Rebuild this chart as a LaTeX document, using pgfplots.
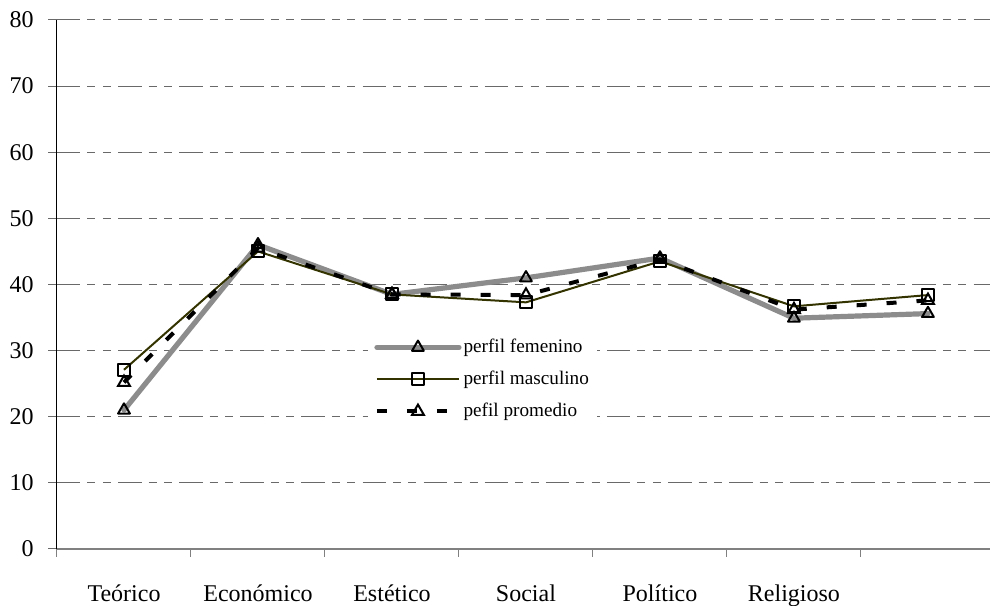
\documentclass[border=0pt]{standalone}
\usepackage{fontspec}
\setmainfont{Liberation Serif}
\usepackage{pgfplots}
\pgfplotsset{compat=1.18}
\definecolor{femgray}{RGB}{140,140,140}
\definecolor{olive3}{RGB}{51,51,0}
\definecolor{gridgray}{RGB}{105,105,105}
\begin{document}
\begin{tikzpicture}
\begin{axis}[
  name=ax,
  scale only axis,
  width=466.5pt, height=264.5pt,
  xmin=-0.5, xmax=6.463,
  ymin=0, ymax=80,
  axis lines*=left,
  x axis line style={draw=gray, line width=1pt, -},
  y axis line style={draw=black, line width=0.5pt, -},
  xtick={0,1,2,3,4,5},
  xticklabels={Teórico,Económico,Estético,Social,Político,Religioso},
  minor xtick={-0.5,0.5,1.5,2.5,3.5,4.5,5.5},
  major x tick style={draw=none},
  minor x tick style={draw=gray, line width=0.5pt},
  minor tick length=4pt,
  ytick={0,10,...,80},
  ytick style={draw=gridgray, line width=0.5pt},
  major tick length=4.5pt,
  tick align=outside,
  ymajorgrids,
  grid style={draw=gridgray, line width=0.5pt, dash pattern=on 11.75pt off 3.5pt on 4pt off 3.7pt on 4pt off 3.6pt},
  tick label style={font=\fontsize{12}{14}\selectfont},
  /pgf/number format/assume math mode=true,
  xticklabel style={anchor=base, yshift=-22pt},
  yticklabel style={anchor=east, inner sep=0pt, xshift=-7pt},
  legend style={at={(rel axis cs:0.3333,0.414)}, anchor=north west, draw=none, fill=white,
    font=\fontsize{9.6}{11}\selectfont, row sep=5pt,
    nodes={inner sep=1pt, text height=7pt, text depth=2pt},
    inner xsep=3pt, inner ysep=3pt},
  legend cell align=left,
  legend image code/.code={\draw[mark repeat=2,mark phase=2,#1] plot coordinates {(0pt,0pt)(20.5pt,0pt)(41pt,0pt)};},
]
\addplot[femgray, line width=2.6pt, line join=round, line cap=round,
  mark=triangle, mark size=3.4pt, mark options={solid, draw=black, fill=white, line width=1pt}]
  coordinates {(0,21.0) (1,46.0) (2,38.5) (3,41.0) (4,44.0) (5,34.9) (6,35.6)};
\addlegendentry{perfil femenino}
\addplot[olive3, line width=1pt, line join=round,
  mark=square, mark size=3pt, mark options={solid, draw=black, fill=white, line width=1pt}]
  coordinates {(0,27.1) (1,45.0) (2,38.5) (3,37.3) (4,43.5) (5,36.7) (6,38.4)};
\addlegendentry{perfil masculino}
\addplot[black, line width=2pt, dash pattern=on 5pt off 10pt,
  mark=triangle, mark size=3.4pt, mark options={solid, draw=black, fill=white, line width=1pt}]
  coordinates {(0,25.2) (1,45.5) (2,38.5) (3,38.4) (4,43.8) (5,36.2) (6,37.6)};
\addlegendentry{pefil promedio}
\end{axis}
\pgfresetboundingbox
\path (ax.south west) ++(-28.5pt,-28.5pt) rectangle ([yshift=10pt]ax.north east);
\end{tikzpicture}
\end{document}
